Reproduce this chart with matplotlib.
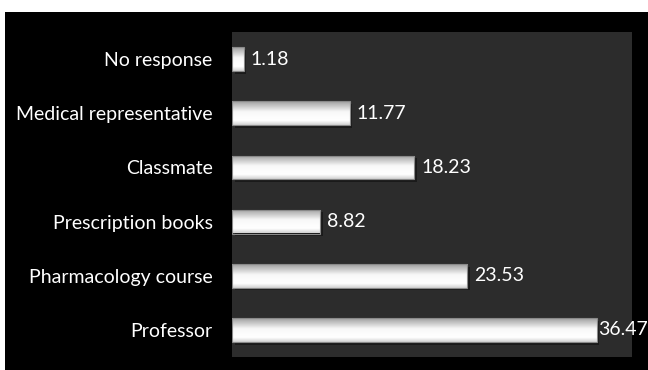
import numpy as np
import matplotlib
matplotlib.use("Agg")
import matplotlib.pyplot as plt
from matplotlib.patches import Rectangle

categories = ["Professor", "Pharmacology course", "Prescription books",
              "Classmate", "Medical representative", "No response"]
values = [36.47, 23.53, 8.82, 18.23, 11.77, 1.18]

plt.rcParams['font.family'] = ['Lato', 'DejaVu Sans']

fig = plt.figure(figsize=(6.48, 3.70), dpi=100, facecolor="white")
# black panel behind the chart
fig.patches.append(Rectangle((5 / 648, 0), 1 - 5 / 648, 1 - 12 / 370,
                             transform=fig.transFigure, facecolor="black",
                             edgecolor="none", zorder=-10))

ax = fig.add_axes([232 / 648, 13 / 370, 400 / 648, 325 / 370])
ax.set_zorder(5)
ax.set_facecolor("#2c2c2c")
for s in ax.spines.values():
    s.set_visible(False)

y = np.arange(len(categories))
bar_h = 0.44

# drop shadow under each bar
ax.barh(y - 0.05, values, height=bar_h, left=0.25, color="#1a1a1a",
        edgecolor="none", zorder=1)
bars = ax.barh(y, values, height=bar_h, color="none", edgecolor="#8a8a8a",
               linewidth=0.8, zorder=3)

# vertical shading: bright top, grey bottom
grad = np.concatenate([np.linspace(0.82, 1.0, 20), np.linspace(1.0, 0.97, 35),
                       np.linspace(0.97, 0.62, 45)])[:, None]
for b in bars:
    x0, y0 = b.get_x(), b.get_y()
    w, h = b.get_width(), b.get_height()
    im = ax.imshow(grad, cmap="gray", vmin=0, vmax=1, aspect="auto",
                   extent=(x0, x0 + w, y0 + h, y0), origin="upper",
                   interpolation="bilinear", zorder=2)
    im.set_clip_path(b)

ax.set_xlim(0, 40)
ax.set_ylim(-0.5, len(categories) - 0.5)

# value labels, nudged left when they would run off the figure
renderer = fig.canvas.get_renderer()
fig_w = fig.bbox.width
gap = 7
for yi, v in zip(y, values):
    t = ax.annotate(f"{v:.2f}", (v, yi), xytext=(gap, 0), textcoords="offset pixels",
                    va="center", ha="left", color="white", fontsize=14, zorder=4,
                    annotation_clip=False)
    bb = t.get_window_extent(renderer)
    overflow = bb.x1 - (fig_w - 8)
    if overflow > 0:
        t.xyann = (max(gap - overflow, 1), 0)

ax.set_yticks(y)
ax.set_yticklabels(categories, color="white", fontsize=14)
ax.tick_params(axis="y", length=0, pad=14)
ax.set_xticks([])

fig.savefig("out.png", dpi=100, facecolor=fig.get_facecolor())
